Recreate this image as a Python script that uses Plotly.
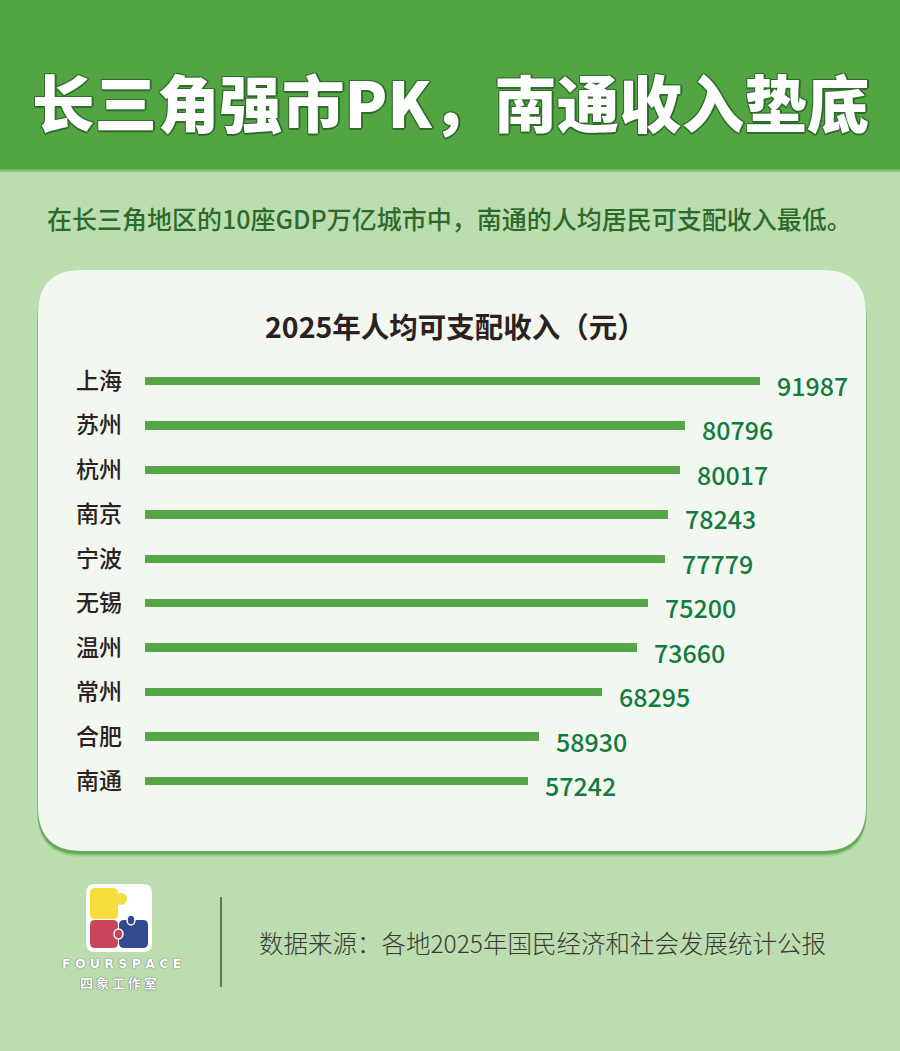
import plotly.graph_objects as go

# ---------------- data ----------------
cities = ["上海", "苏州", "杭州", "南京", "宁波", "无锡", "温州", "常州", "合肥", "南通"]
income = [91987, 80796, 80017, 78243, 77779, 75200, 73660, 68295, 58930, 57242]

title_text = "长三角强市PK，南通收入垫底"
subtitle_text = "在长三角地区的10座GDP万亿城市中，南通的人均居民可支配收入最低。"
chart_title = "2025年人均可支配收入（元）"
source_text = "数据来源：各地2025年国民经济和社会发展统计公报"
logo_en = "F O U R S P A C E"
logo_cn = "四 象 工 作 室"

# ---------------- layout helpers ----------------
W, H = 900, 1051
FONT = "Noto Sans CJK SC"


def px(x):
    return x / W


def py(y):
    return 1 - y / H


def rounded_path(x0, y0, x1, y1, r):
    pts = [
        f"M {px(x0 + r)} {py(y0)}",
        f"L {px(x1 - r)} {py(y0)}",
        f"Q {px(x1)} {py(y0)} {px(x1)} {py(y0 + r)}",
        f"L {px(x1)} {py(y1 - r)}",
        f"Q {px(x1)} {py(y1)} {px(x1 - r)} {py(y1)}",
        f"L {px(x0 + r)} {py(y1)}",
        f"Q {px(x0)} {py(y1)} {px(x0)} {py(y1 - r)}",
        f"L {px(x0)} {py(y0 + r)}",
        f"Q {px(x0)} {py(y0)} {px(x0 + r)} {py(y0)}",
        "Z",
    ]
    return " ".join(pts)


HEADER_GREEN = "#53A544"
BG_GREEN = "#BCDDAF"
CARD = "#F2F8F0"
BAR_GREEN = "#55A646"
VALUE_GREEN = "#137B3F"
DARK = "#2B2121"

X_MAX = 100000
BAR_X0 = 145
SCALE = (760 - 145) / 91987.0
x_dom = [px(BAR_X0), px(BAR_X0 + X_MAX * SCALE)]
ROW0, ROWSTEP = 381, 44.45
y_top = ROW0 - ROWSTEP / 2
y_bot = ROW0 + ROWSTEP * 9 + ROWSTEP / 2
y_dom = [py(y_bot), py(y_top)]

fig = go.Figure()
fig.add_trace(
    go.Bar(
        x=income,
        y=cities,
        orientation="h",
        width=0.19,
        marker=dict(color=BAR_GREEN, line=dict(width=0)),
        hoverinfo="skip",
    )
)

shapes = []
# header band
shapes.append(dict(type="rect", xref="paper", yref="paper", x0=0, x1=1,
                   y0=py(170), y1=1, fillcolor=HEADER_GREEN, line_width=0, layer="below"))
shapes.append(dict(type="rect", xref="paper", yref="paper", x0=0, x1=1,
                   y0=py(172), y1=py(169.5), fillcolor="#8CC57C", line_width=0, layer="below"))
# card shadow
for off, alpha in [(6, 0.15), (4.5, 0.35), (3, 0.7)]:
    shapes.append(dict(type="path", xref="paper", yref="paper",
                       path=rounded_path(38 - 0.5, 270 + off, 866 + 0.5, 851 + off, 44),
                       fillcolor=f"rgba(80,160,65,{alpha})", line_width=0, layer="below"))
# card
shapes.append(dict(type="path", xref="paper", yref="paper",
                   path=rounded_path(38, 270, 866, 851, 44),
                   fillcolor=CARD, line_width=0, layer="below"))
# separator
shapes.append(dict(type="line", xref="paper", yref="paper", x0=px(221), x1=px(221),
                   y0=py(897), y1=py(987), line=dict(color="#557F4B", width=2), layer="below"))
# logo: white backing
shapes.append(dict(type="path", xref="paper", yref="paper",
                   path=rounded_path(86, 884, 152, 952, 9),
                   fillcolor="white", line_width=0, layer="below"))
shapes.append(dict(type="circle", xref="paper", yref="paper",
                   x0=px(114), x1=px(131), y0=py(907), y1=py(890),
                   fillcolor="white", line_width=0, layer="below"))
# yellow
shapes.append(dict(type="path", xref="paper", yref="paper",
                   path=rounded_path(90, 888, 118, 919, 5),
                   fillcolor="#F5DD3C", line_width=0, layer="below"))
shapes.append(dict(type="circle", xref="paper", yref="paper",
                   x0=px(115), x1=px(127), y0=py(905), y1=py(893),
                   fillcolor="#F5DD3C", line_width=0, layer="below"))
# red
shapes.append(dict(type="path", xref="paper", yref="paper",
                   path=rounded_path(90, 920, 118, 948, 5),
                   fillcolor="#C9465A", line_width=0, layer="below"))
# blue
shapes.append(dict(type="path", xref="paper", yref="paper",
                   path=rounded_path(119, 920, 148, 948, 5),
                   fillcolor="#2F4A8E", line_width=0, layer="below"))
shapes.append(dict(type="circle", xref="paper", yref="paper",
                   x0=px(127), x1=px(135), y0=py(925), y1=py(915),
                   fillcolor="#2F4A8E", line=dict(color="white", width=1.5), layer="below"))
shapes.append(dict(type="circle", xref="paper", yref="paper",
                   x0=px(114), x1=px(123), y0=py(939), y1=py(929),
                   fillcolor="#C9465A", line=dict(color="white", width=1.5), layer="below"))

annotations = []
outline = ("1px 1px 0 #2F6D2A, -1px -1px 0 #2F6D2A, 1px -1px 0 #2F6D2A, "
           "-1px 1px 0 #2F6D2A, 0 2px 0 #2F6D2A, 2px 0 0 #2F6D2A")
annotations.append(dict(text=title_text, xref="paper", yref="paper", x=0.5, y=py(101),
                        xanchor="center", yanchor="middle", showarrow=False,
                        font=dict(family=FONT, size=62.5, color="white", weight=900, shadow=outline)))
annotations.append(dict(text=subtitle_text, xref="paper", yref="paper", x=px(449), y=py(218),
                        xanchor="center", yanchor="middle", showarrow=False,
                        font=dict(family=FONT, size=25, color="#2C6A2B", weight=500)))
annotations.append(dict(text=chart_title, xref="paper", yref="paper", x=px(455), y=py(326),
                        xanchor="center", yanchor="middle", showarrow=False,
                        font=dict(family=FONT, size=28.5, color=DARK, weight=700)))
for c, v in zip(cities, income):
    annotations.append(dict(text=c, xref="paper", yref="y", x=px(74), y=c,
                            xanchor="left", yanchor="middle", yshift=2, showarrow=False,
                            font=dict(family=FONT, size=23, color=DARK, weight=500)))
    annotations.append(dict(text=str(v), xref="x", yref="y", x=v, y=c,
                            xanchor="left", yanchor="middle", xshift=15, yshift=-4,
                            showarrow=False,
                            font=dict(family=FONT, size=25, color=VALUE_GREEN, weight=500)))
annotations.append(dict(text=source_text, xref="paper", yref="paper", x=px(257), y=py(942),
                        xanchor="left", yanchor="middle", showarrow=False,
                        font=dict(family=FONT, size=24.5, color="#3A3A36", weight=300)))
annotations.append(dict(text=logo_en, xref="paper", yref="paper", x=px(121), y=py(963),
                        xanchor="center", yanchor="middle", showarrow=False,
                        font=dict(family="DejaVu Sans", size=12.5, color="white", weight=700,
                                  shadow="0 0 1px #666, 0 0 1px #666")))
annotations.append(dict(text=logo_cn, xref="paper", yref="paper", x=px(119), y=py(982),
                        xanchor="center", yanchor="middle", showarrow=False,
                        font=dict(family=FONT, size=13, color="white", weight=700,
                                  shadow="0 0 1px #555, 0 0 1px #555")))

fig.update_layout(
    width=W,
    height=H,
    margin=dict(l=0, r=0, t=0, b=0),
    paper_bgcolor=BG_GREEN,
    plot_bgcolor="rgba(0,0,0,0)",
    showlegend=False,
    bargap=0,
    shapes=shapes,
    annotations=annotations,
    xaxis=dict(domain=x_dom, range=[0, X_MAX], visible=False, fixedrange=True),
    yaxis=dict(domain=y_dom, type="category", categoryorder="array", categoryarray=cities,
               range=[9.5, -0.5], visible=False, fixedrange=True),
    font=dict(family=FONT),
)

fig.write_html("out.html", config={"displayModeBar": False, "staticPlot": True},
               post_script="document.body.style.margin='0';")
